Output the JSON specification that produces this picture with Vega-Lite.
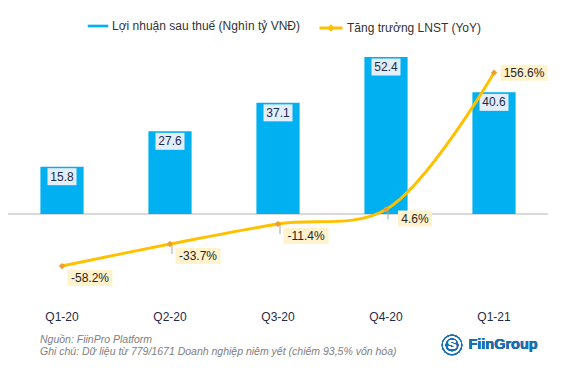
{
  "$schema": "https://vega.github.io/schema/vega-lite/v6.json",
  "width": 540,
  "height": 266,
  "autosize": {"type": "none"},
  "padding": {"left": 8, "top": 40, "right": 36, "bottom": 62},
  "background": "white",
  "config": {
    "view": {"stroke": null},
    "font": "Liberation Sans",
    "locale": {"number": {"decimal": ".", "thousands": ",", "grouping": [3], "currency": ["$", ""], "minus": "-"}}
  },
  "title": {
    "text": ["Nguồn: FiinPro Platform", "Ghi chú: Dữ liệu từ 779/1671 Doanh nghiệp niêm yết (chiếm 93,5% vốn hóa)"],
    "orient": "bottom",
    "anchor": "start",
    "frame": "group",
    "align": "left",
    "dx": 32,
    "offset": -21,
    "font": "Liberation Sans",
    "fontSize": 10.5,
    "fontStyle": "italic",
    "fontWeight": "normal",
    "color": "#808080",
    "lineHeight": 12
  },
  "data": {
    "values": [
      {"q": "Q1-20", "lnst": 15.8, "yoy": -0.582},
      {"q": "Q2-20", "lnst": 27.6, "yoy": -0.337},
      {"q": "Q3-20", "lnst": 37.1, "yoy": -0.114},
      {"q": "Q4-20", "lnst": 52.4, "yoy": 0.046},
      {"q": "Q1-21", "lnst": 40.6, "yoy": 1.566}
    ]
  },
  "encoding": {
    "x": {
      "field": "q", "type": "nominal", "sort": null,
      "scale": {"paddingInner": 0.6, "paddingOuter": 0.3},
      "axis": {"title": null, "labelAngle": 0, "domain": false, "ticks": false, "labelPadding": 5, "labelFontSize": 12, "labelColor": "#1f2a48", "labelFont": "Liberation Sans"}
    }
  },
  "layer": [
    {
      "encoding": {
        "y": {"field": "lnst", "type": "quantitative", "scale": {"domain": [-30.7, 58.08], "nice": false, "zero": false}, "axis": null}
      },
      "layer": [
        {"mark": {"type": "rule", "color": "#d9d9d9", "strokeWidth": 1}, "encoding": {"x": null, "y": {"datum": 0}}},
        {
          "mark": {"type": "bar"},
          "encoding": {
            "color": {
              "datum": "Lợi nhuận sau thuế (Nghìn tỷ VNĐ)",
              "scale": {"range": ["#00B0F0"]},
              "legend": {"title": null, "orient": "none", "legendX": 79, "legendY": -25, "symbolType": "M-1,-0.13H1V0.13H-1Z", "symbolSize": 420, "labelFontSize": 12, "labelLimit": 400, "labelColor": "#333333", "labelFont": "Liberation Sans", "labelOffset": 3}
            }
          }
        },
        {"mark": {"type": "rect", "width": 29, "height": 17, "yOffset": 10, "fill": "#e2eefa"}},
        {"mark": {"type": "text", "dy": 10, "fontSize": 12, "color": "#1f2a48", "font": "Liberation Sans"}, "encoding": {"text": {"field": "lnst", "format": ".1f"}}}
      ]
    },
    {
      "encoding": {
        "y": {"field": "yoy", "type": "quantitative", "scale": {"domain": [-1.026, 1.93], "nice": false, "zero": false}, "axis": null}
      },
      "layer": [
        {
          "transform": [{"filter": "datum.yoy < 1 && datum.yoy > -0.5"}],
          "mark": {"type": "rule", "color": "#a6a6a6", "strokeWidth": 1, "xOffset": 2, "y2Offset": 10},
          "encoding": {"y2": {"field": "yoy"}}
        },
        {
          "mark": {"type": "line", "interpolate": "catmull-rom", "strokeWidth": 3},
          "encoding": {
            "stroke": {
              "datum": "Tăng trưởng LNST (YoY)",
              "scale": {"range": ["#FFC000"]},
              "legend": {"title": null, "orient": "none", "legendX": 310, "legendY": -25, "symbolType": "M-1,0H1M0,-0.14L0.14,0L0,0.14L-0.14,0Z", "symbolSize": 529, "symbolStrokeWidth": 3, "symbolFillColor": "#F0A030", "labelFontSize": 12, "labelLimit": 400, "labelColor": "#333333", "labelFont": "Liberation Sans", "labelOffset": 3}
            }
          }
        },
        {"mark": {"type": "point", "shape": "diamond", "filled": true, "size": 40, "color": "#EE9E2E", "opacity": 1}},
        {
          "transform": [{"filter": "datum.yoy < 0"}],
          "mark": {"type": "rect", "width": 45, "height": 16, "xOffset": 28, "yOffset": 12, "fill": "#FFF2CC"}
        },
        {
          "transform": [{"filter": "datum.yoy < 0"}],
          "mark": {"type": "text", "dx": 28, "dy": 12, "fontSize": 12, "color": "#262626", "font": "Liberation Sans"},
          "encoding": {"text": {"field": "yoy", "format": ".1%"}}
        },
        {
          "transform": [{"filter": "datum.yoy > 0 && datum.yoy < 1"}],
          "mark": {"type": "rect", "width": 34, "height": 16, "xOffset": 29, "yOffset": 9, "fill": "#FFF2CC"}
        },
        {
          "transform": [{"filter": "datum.yoy > 0 && datum.yoy < 1"}],
          "mark": {"type": "text", "dx": 29, "dy": 9, "fontSize": 12, "color": "#262626", "font": "Liberation Sans"},
          "encoding": {"text": {"field": "yoy", "format": ".1%"}}
        },
        {
          "transform": [{"filter": "datum.yoy > 1"}],
          "mark": {"type": "rect", "width": 47, "height": 16, "xOffset": 30, "yOffset": 0, "fill": "#FFF2CC"}
        },
        {
          "transform": [{"filter": "datum.yoy > 1"}],
          "mark": {"type": "text", "dx": 30, "dy": 0, "fontSize": 12, "color": "#262626", "font": "Liberation Sans"},
          "encoding": {"text": {"field": "yoy", "format": ".1%"}}
        },
        {
          "mark": {"type": "point", "shape": "circle", "filled": true, "size": 430, "color": "#1B6FB0", "opacity": 1, "xOffset": -42},
          "encoding": {"x": {"datum": "Q1-21"}, "y": {"datum": -1.459}}
        },
        {
          "mark": {"type": "point", "shape": "circle", "filled": false, "size": 250, "color": "white", "strokeWidth": 1.5, "opacity": 1, "xOffset": -42},
          "encoding": {"x": {"datum": "Q1-21"}, "y": {"datum": -1.459}}
        },
        {
          "mark": {"type": "text", "fontSize": 13, "fontWeight": "bold", "color": "white", "font": "Liberation Sans", "xOffset": -42},
          "encoding": {"x": {"datum": "Q1-21"}, "y": {"datum": -1.459}, "text": {"value": "S"}}
        },
        {
          "mark": {"type": "text", "fontSize": 14.5, "fontWeight": "bold", "color": "#1B6FB0", "font": "Liberation Sans", "dx": 9},
          "encoding": {"x": {"datum": "Q1-21"}, "y": {"datum": -1.459}, "text": {"value": "FiinGroup"}}
        }
      ]
    }
  ],
  "resolve": {"scale": {"y": "independent"}}
}
